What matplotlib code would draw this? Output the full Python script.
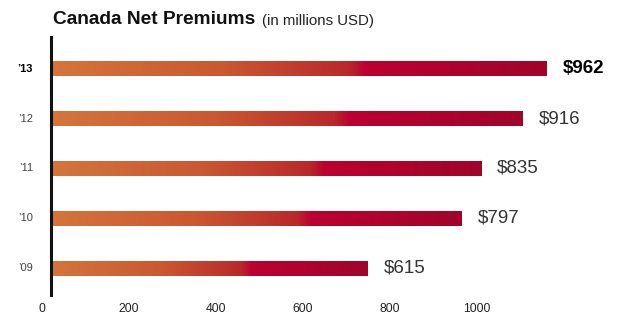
import numpy as np
import matplotlib
matplotlib.use("Agg")
import matplotlib.pyplot as plt
from matplotlib.colors import LinearSegmentedColormap

years = ["’09", "’10", "’11", "’12", "’13"]
values = [615, 797, 835, 916, 962]
value_labels = ["$615", "$797", "$835", "$916", "$962"]
tick_values = [0, 200, 400, 600, 800, 1000]

plt.rcParams['font.family'] = ['Liberation Sans', 'DejaVu Sans']

W, H = 619, 320
fig = plt.figure(figsize=(W / 100, H / 100), dpi=100)

def px_rect(x0, y0, x1, y1):
    return [x0 / W, 1 - y1 / H, (x1 - x0) / W, (y1 - y0) / H]

ax = fig.add_axes(px_rect(51, 37, 619, 295))
ax.axis('off')

cmap = LinearSegmentedColormap.from_list("bar", [
    (0.0, "#D4753C"), (0.35, "#CA5831"), (0.6, "#B9292A"),
    (0.635, "#BC0030"), (1.0, "#A0052A")])
grad = np.linspace(0, 1, 512).reshape(1, -1)
bh = 0.3
for i, (v, lab) in enumerate(zip(values, value_labels)):
    ax.imshow(grad, cmap=cmap, aspect='auto', extent=[0, v, i - bh / 2, i + bh / 2],
              interpolation='bilinear', zorder=2)
    bold = (i == len(values) - 1)
    ax.text(v + 31, i, lab, ha='left', va='center',
            fontsize=13.5, fontweight='bold' if bold else 'normal',
            color='#000000' if bold else '#333333')
    ax.text(-18 / 0.515, i, years[i], ha='right', va='center', fontsize=8,
            fontweight='bold' if bold else 'normal',
            color='#000000' if bold else '#444444')
ax.set_ylim(-0.54, 4.64)
ax.set_xlim(0, 568 / 0.515)
ax.plot([0, 0], [-0.54, 4.64], color='#111111', lw=2.2, zorder=3, clip_on=False)

# tick label axis
tax = fig.add_axes(px_rect(42, 300, 477, 318))
tax.set_xlim(0, 1000)
tax.set_ylim(0, 1)
tax.axis('off')
for t in tick_values:
    tax.text(t, 0.5, str(t), ha='center', va='center', fontsize=8.8, color='#222222')

fig.text(53 / W, 1 - 20 / H, "Canada Net Premiums", ha='left', va='center',
         fontsize=13.8, fontweight='bold', color='#111111')
fig.text(262 / W, 1 - 20.5 / H, "(in millions USD)", ha='left', va='center',
         fontsize=10.8, color='#222222')

fig.savefig("out.png", dpi=100)
